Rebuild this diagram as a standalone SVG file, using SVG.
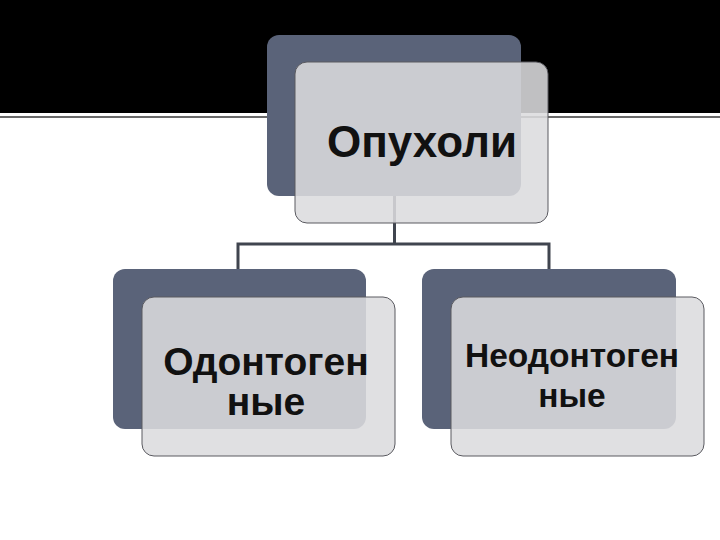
<svg xmlns="http://www.w3.org/2000/svg" width="720" height="540" viewBox="0 0 720 540">
<style>
.back{fill:#5a6379;}
.front{fill:#dbdbde;fill-opacity:0.875;stroke:#5a5a60;stroke-width:1;}
.lbl{font-family:"Liberation Sans",Arial,sans-serif;font-weight:bold;fill:#111;text-anchor:middle;}
.conn{fill:none;stroke:#40454f;stroke-width:3;}
</style>
<rect x="0" y="0" width="720" height="540" fill="#ffffff"/>
<rect x="0" y="0" width="720" height="113" fill="#000000"/>
<line x1="0" y1="117" x2="720" y2="117" stroke="#6a6a6a" stroke-width="2"/>
<g id="connectors">
<path class="conn" d="M394.5,196 V244 M238,244 H549 M238,242.5 V269 M549,242.5 V269"/>
</g>
<g id="node-top">
<rect class="back" x="267" y="35" width="254" height="161" rx="12"/>
<rect class="front" x="295" y="62" width="253" height="161" rx="12"/>
<text class="lbl" x="422" y="157" font-size="44">Опухоли</text>
</g>
<g id="node-left">
<rect class="back" x="113" y="269" width="253" height="160" rx="12"/>
<rect class="front" x="142" y="297" width="253" height="159" rx="12"/>
<text class="lbl" x="266" y="375" font-size="39">Одонтоген</text>
<text class="lbl" x="266" y="415" font-size="39">ные</text>
</g>
<g id="node-right">
<rect class="back" x="422" y="269" width="254" height="160" rx="12"/>
<rect class="front" x="451" y="297" width="253" height="159" rx="12"/>
<text class="lbl" x="572" y="367" font-size="33.5">Неодонтоген</text>
<text class="lbl" x="572" y="407" font-size="33.5">ные</text>
</g>
</svg>
